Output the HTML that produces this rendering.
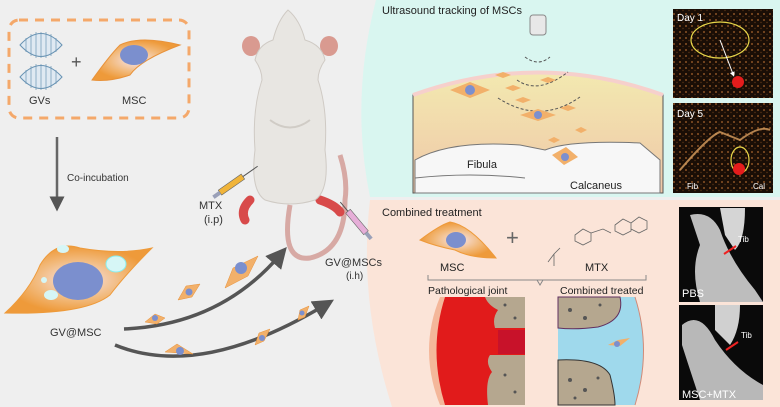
<!DOCTYPE html>
<html><head><meta charset="utf-8"><style>
html,body{margin:0;padding:0;background:#efefef}
svg{display:block}
text{font-family:"Liberation Sans",sans-serif}
</style></head><body>
<svg width="780" height="407" viewBox="0 0 780 407" xmlns="http://www.w3.org/2000/svg">
<defs>
<radialGradient id="cellg" cx="50%" cy="50%" r="50%"><stop offset="0" stop-color="#f6e6ee"/><stop offset="0.6" stop-color="#f2b97a"/><stop offset="1" stop-color="#ee9a3a"/></radialGradient>
<linearGradient id="tis" x1="0" y1="0" x2="0" y2="1"><stop offset="0" stop-color="#f3e9b0"/><stop offset="1" stop-color="#efc7a8"/></linearGradient>
<marker id="ah" markerWidth="6" markerHeight="6" refX="3" refY="3" orient="auto" markerUnits="strokeWidth"><path d="M0,0 L6,3 L0,6 Z" fill="#555"/></marker>
<marker id="ah2" markerWidth="5" markerHeight="5" refX="2" refY="2.5" orient="auto" markerUnits="strokeWidth"><path d="M0,0 L5,2.5 L0,5 Z" fill="#fff"/></marker>
<pattern id="spk" width="6" height="6" patternUnits="userSpaceOnUse"><rect width="6" height="6" fill="#1a0e06"/><circle cx="2" cy="2" r="1" fill="#8a5226"/><circle cx="5" cy="4.5" r="0.7" fill="#5a3416"/></pattern>
</defs>
<rect width="780" height="407" fill="#efefef"/>
<path d="M376,0 Q350,100 370,197 L780,197 L780,0 Z" fill="#d9f6f0"/>
<path d="M370,200 Q358,300 392,407 L780,407 L780,200 Z" fill="#fbe4d8"/>

<rect x="9" y="20" width="180" height="98" rx="10" fill="none" stroke="#f4a86a" stroke-width="3" stroke-dasharray="9,7"/>
<g fill="#dfe9f2" stroke="#6a94b4" stroke-width="1">
<path d="M20,45 Q41,22 62,45 Q41,68 20,45 Z"/>
<path d="M20,77 Q41,54 62,77 Q41,100 20,77 Z"/>
</g>
<g stroke="#6a94b4" stroke-width="0.7">
<line x1="26" y1="38" x2="26" y2="52"/><line x1="31" y1="34" x2="31" y2="56"/><line x1="36" y1="32" x2="36" y2="58"/><line x1="41" y1="32" x2="41" y2="58"/><line x1="46" y1="32" x2="46" y2="58"/><line x1="51" y1="34" x2="51" y2="56"/><line x1="56" y1="38" x2="56" y2="52"/>
<line x1="26" y1="70" x2="26" y2="84"/><line x1="31" y1="66" x2="31" y2="88"/><line x1="36" y1="64" x2="36" y2="90"/><line x1="41" y1="64" x2="41" y2="90"/><line x1="46" y1="64" x2="46" y2="90"/><line x1="51" y1="66" x2="51" y2="88"/><line x1="56" y1="70" x2="56" y2="84"/>
</g>
<text x="71" y="68" font-size="18" fill="#555">+</text>
<path d="M92,80 Q110,55 120,45 Q140,35 180,45 Q140,60 130,75 Q110,82 92,80 Z" fill="url(#cellg)" stroke="#e8923a"/>
<ellipse cx="134" cy="55" rx="14" ry="10" fill="#7b8fce"/>
<text x="29" y="104" font-size="11" fill="#333">GVs</text>
<text x="122" y="104" font-size="11" fill="#333">MSC</text>

<line x1="57" y1="137" x2="57" y2="204" stroke="#666" stroke-width="2.5" marker-end="url(#ah)"/>
<text x="67" y="181" font-size="10" fill="#333">Co-incubation</text>

<path d="M5,313 Q30,290 40,265 Q55,240 80,248 Q120,255 152,248 Q125,275 110,295 Q85,315 5,313 Z" fill="url(#cellg)" stroke="#ee9a3a"/>
<ellipse cx="78" cy="281" rx="25" ry="19" fill="#7b8fce"/>
<ellipse cx="116" cy="264" rx="10" ry="8" fill="#d6f6f6" stroke="#8ee"/>
<ellipse cx="63" cy="249" rx="6" ry="4" fill="#d6f6f6"/>
<ellipse cx="51" cy="295" rx="7" ry="5" fill="#d6f6f6"/>
<ellipse cx="44" cy="280" rx="3" ry="3" fill="#d6f6f6"/>
<text x="50" y="336" font-size="11" fill="#333">GV@MSC</text>

<path d="M124,329 Q220,325 280,255" fill="none" stroke="#555" stroke-width="3.5" marker-end="url(#ah)"/>
<path d="M115,345 Q200,380 325,305" fill="none" stroke="#555" stroke-width="3.5" marker-end="url(#ah)"/>
<g fill="#f2b06a" stroke="#e8923a" stroke-width="0.5">
<path d="M145,322 l10,-8 l10,4 l-8,6 Z"/><path d="M178,300 l8,-14 l14,-2 l-8,13 Z"/><path d="M225,288 l8,-20 l25,-12 l-10,20 Z"/>
<path d="M165,352 l12,-8 l16,10 Z"/><path d="M255,345 l4,-12 l11,-4 l-6,12 Z"/><path d="M298,320 l2,-10 l9,-4 l-4,11 Z"/>
</g>
<g fill="#7b8fce"><circle cx="155" cy="318" r="3"/><circle cx="189" cy="292" r="3.5"/><circle cx="241" cy="268" r="6"/><circle cx="180" cy="351" r="4"/><circle cx="262" cy="338" r="3"/><circle cx="302" cy="313" r="2.5"/></g>

<!-- rat -->
<path d="M290,205 Q280,262 310,258 Q345,250 345,200 Q348,180 340,155" fill="none" stroke="#d7a9a4" stroke-width="5"/>
<ellipse cx="251" cy="46" rx="9" ry="10" fill="#d99a90"/>
<ellipse cx="329" cy="46" rx="9" ry="10" fill="#d99a90"/>
<path d="M250,200 Q240,210 245,220" stroke="#d84a4a" stroke-width="9" fill="none" stroke-linecap="round"/>
<path d="M320,200 Q335,205 340,212" stroke="#d84a4a" stroke-width="9" fill="none" stroke-linecap="round"/>
<path d="M288,10 Q300,20 305,40 Q322,45 325,60 Q318,70 318,80 Q328,110 325,150 Q330,190 315,200 Q290,208 265,200 Q250,190 255,150 Q252,110 262,80 Q262,70 255,60 Q258,45 273,40 Q278,20 288,10 Z" fill="#e8e6e2" stroke="#cfcac4"/>
<path d="M270,120 Q290,135 310,120" fill="none" stroke="#d0ccc6" stroke-width="2"/>
<g transform="translate(238,180) rotate(-35)"><rect x="-22" y="-3" width="28" height="6" fill="#f0b43a" stroke="#666" stroke-width="0.6"/><rect x="-30" y="-2" width="8" height="4" fill="#9aa0b8"/><line x1="6" y1="0" x2="24" y2="0" stroke="#555"/></g>
<g transform="translate(357,222) rotate(50)"><rect x="-14" y="-3" width="28" height="6" fill="#e6aed8" stroke="#666" stroke-width="0.6"/><rect x="14" y="-2" width="8" height="4" fill="#9aa0b8"/><line x1="-14" y1="0" x2="-26" y2="0" stroke="#555"/></g>
<text x="199" y="209" font-size="11" fill="#333">MTX</text>
<text x="204" y="223" font-size="11" fill="#333">(i.p)</text>
<text x="325" y="266" font-size="11" fill="#333">GV@MSCs</text>
<text x="346" y="279" font-size="10" fill="#333">(i.h)</text>

<text x="382" y="14" font-size="11" fill="#222">Ultrasound tracking of MSCs</text>
<rect x="530" y="15" width="16" height="20" rx="3" fill="#e8e8e8" stroke="#888"/>
<path d="M413,95 Q538,50 663,95 L663,193 L413,193 Z" fill="url(#tis)" stroke="#555"/>
<path d="M413,95 Q538,50 663,95" fill="none" stroke="#f6d0cc" stroke-width="4"/>
<path d="M415,160 Q450,140 520,145 L545,150 Q570,140 640,143 L660,160 L660,193 L415,193 Z" fill="#f7f7f7" stroke="#777"/>
<path d="M415,178 Q470,172 525,178" fill="none" stroke="#777"/>
<g fill="none" stroke="#555" stroke-dasharray="3,2"><path d="M525,57 Q538,67 550,57"/><path d="M517,80 Q538,95 568,72"/><path d="M498,98 Q540,125 580,97"/></g>
<g fill="#f2b06a"><path d="M450,90 l20,-8 l20,8 l-20,8 Z"/><path d="M520,115 l18,-6 l18,6 l-18,6 Z"/><path d="M552,155 l14,-8 l12,10 l-14,8 Z"/>
<path d="M495,75 l8,-3 l8,3 l-8,3 Z"/><path d="M505,88 l8,-3 l8,3 l-8,3 Z"/><path d="M540,80 l8,-3 l8,3 l-8,3 Z"/><path d="M515,100 l8,-3 l8,3 l-8,3 Z"/><path d="M560,108 l8,-3 l8,3 l-8,3 Z"/><path d="M575,130 l6,-3 l6,3 l-6,3 Z"/><path d="M548,140 l6,-3 l6,3 l-6,3 Z"/></g>
<g fill="#7b8fce"><circle cx="470" cy="90" r="5"/><circle cx="538" cy="115" r="4"/><circle cx="565" cy="157" r="4"/></g>
<text x="467" y="168" font-size="11" fill="#222">Fibula</text>
<text x="570" y="189" font-size="11" fill="#222">Calcaneus</text>

<rect x="673" y="9" width="100" height="89" fill="url(#spk)"/>
<ellipse cx="720" cy="40" rx="29" ry="18" fill="none" stroke="#e8d84a" stroke-width="1.2"/>
<line x1="720" y1="40" x2="733" y2="74" stroke="#fff" marker-end="url(#ah2)"/>
<circle cx="738" cy="82" r="6" fill="#e51c1c"/>
<text x="677" y="21" font-size="10" fill="#fff">Day 1</text>
<rect x="673" y="103" width="100" height="90" fill="url(#spk)"/>
<path d="M680,170 Q710,135 720,132 L740,140 Q760,125 770,130" fill="none" stroke="#d9a060" stroke-width="2" opacity="0.8"/>
<ellipse cx="740" cy="160" rx="9" ry="13" fill="none" stroke="#e8d84a" stroke-width="1.2"/>
<circle cx="739" cy="169" r="6" fill="#e51c1c"/>
<text x="677" y="117" font-size="10" fill="#fff">Day 5</text>
<text x="687" y="189" font-size="8" fill="#fff">Fib</text>
<text x="753" y="189" font-size="8" fill="#fff">Cal</text>

<text x="382" y="216" font-size="11" fill="#222">Combined treatment</text>
<path d="M420,240 Q440,225 450,222 Q470,225 496,258 Q470,258 455,250 Q435,246 420,240 Z" fill="url(#cellg)" stroke="#ee9a3a"/>
<ellipse cx="456" cy="240" rx="10" ry="8" fill="#7b8fce"/>
<text x="506" y="245" font-size="22" fill="#666">+</text>
<g fill="none" stroke="#666" stroke-width="0.8"><path d="M575,235 l8,-6 l8,4 l0,8 l-8,4 l-8,-4 Z"/><path d="M591,233 l12,-4 l8,4"/><path d="M615,225 l8,-6 l8,4 l0,8 l-8,4 l-8,-4 Z M631,223 l8,-6 l8,4 l0,8 l-8,4 l-8,-4 Z"/><path d="M548,262 l6,-8 l6,-6 M554,254 l0,12"/></g>
<text x="440" y="271" font-size="11" fill="#222">MSC</text>
<text x="585" y="271" font-size="11" fill="#222">MTX</text>
<path d="M428,275 L428,280 L646,280 L646,275 M537,280 L540,285 L543,280" fill="none" stroke="#888"/>
<text x="428" y="294" font-size="10.5" fill="#222">Pathological joint</text>
<text x="560" y="294" font-size="10.5" fill="#222">Combined treated</text>
<path d="M440,297 Q418,350 440,405 L525,405 L525,297 Z" fill="#f4b79a"/>
<path d="M445,297 Q428,350 445,405 L525,405 L525,297 Z" fill="#e11b1b"/>
<path d="M485,297 L525,297 L525,328 L495,328 Q492,318 498,310 Q488,305 485,297 Z" fill="#b5a78f"/>
<path d="M490,355 L525,355 L525,405 L488,405 Q485,380 492,372 Q485,362 490,355 Z" fill="#b5a78f"/>
<rect x="498" y="330" width="27" height="24" fill="#c8122a"/>
<path d="M558,297 L635,297 Q652,350 635,405 L558,405 Z" fill="#9fd9ec"/>
<path d="M558,297 L620,297 Q625,320 598,327 Q575,330 558,328 Z" fill="#b5a78f" stroke="#603060"/>
<path d="M558,360 Q600,358 610,375 Q615,395 615,405 L558,405 Z" fill="#b5a78f" stroke="#333"/>
<path d="M635,297 Q652,350 635,405" fill="none" stroke="#d08a78"/>
<path d="M608,345 l10,-5 l12,-2 l-10,8 Z" fill="#f2b06a"/><circle cx="617" cy="344" r="3" fill="#7b8fce"/>
<g fill="#555"><circle cx="505" cy="305" r="1.5"/><circle cx="515" cy="318" r="1.5"/><circle cx="505" cy="375" r="1.5"/><circle cx="515" cy="392" r="1.5"/><circle cx="570" cy="310" r="2"/><circle cx="585" cy="318" r="2"/><circle cx="600" cy="305" r="1.5"/><circle cx="570" cy="380" r="2"/><circle cx="585" cy="390" r="2"/><circle cx="598" cy="378" r="1.5"/><circle cx="575" cy="398" r="1.5"/></g>

<rect x="679" y="207" width="84" height="95" fill="#0a0a0a"/>
<path d="M690,215 Q710,210 720,230 Q730,260 755,290 L763,302 L700,302 Q690,270 700,245 Z" fill="#bdbdbd"/>
<path d="M720,208 L745,208 Q745,240 735,250 L725,235 Z" fill="#d5d5d5"/>
<line x1="736" y1="246" x2="724" y2="254" stroke="#e22" stroke-width="2"/>
<text x="738" y="242" font-size="8" fill="#fff">Tib</text>
<text x="682" y="297" font-size="11" fill="#fff">PBS</text>
<rect x="679" y="305" width="84" height="95" fill="#0a0a0a"/>
<path d="M682,325 Q700,310 715,340 Q735,370 763,385 L763,400 L700,400 Q690,370 682,345 Z" fill="#b8b8b8"/>
<path d="M715,305 L740,305 Q740,330 730,345 L715,330 Z" fill="#d0d0d0"/>
<line x1="738" y1="342" x2="726" y2="350" stroke="#e22" stroke-width="2"/>
<text x="741" y="338" font-size="8" fill="#fff">Tib</text>
<text x="682" y="398" font-size="11" fill="#fff">MSC+MTX</text>
</svg>
</body></html>
